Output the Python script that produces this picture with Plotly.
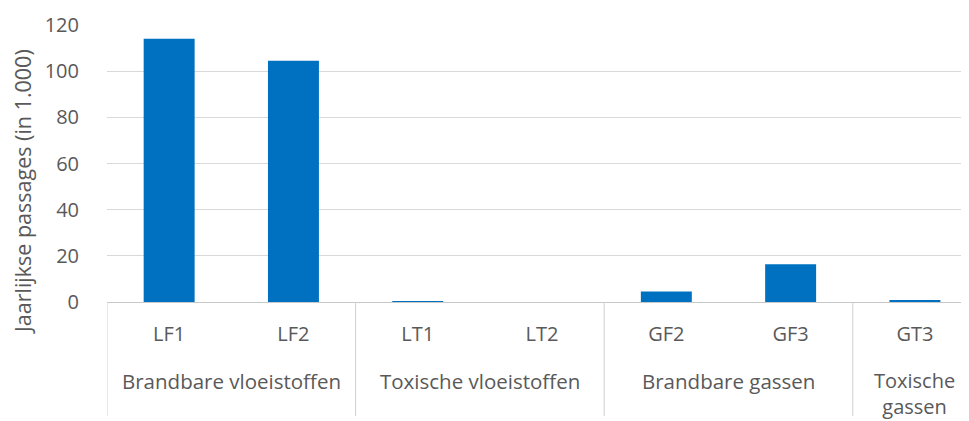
import plotly.graph_objects as go

categories = ["LF1", "LF2", "LT1", "LT2", "GF2", "GF3", "GT3"]
values = [114, 104.5, 0.4, 0, 4.5, 16.3, 0.8]
groups = ["Brandbare vloeistoffen", "Toxische vloeistoffen", "Brandbare gassen", "Toxische<br>gassen"]
group_spans = [(0, 1), (2, 3), (4, 5), (6, 6)]
y_ticks = [0, 20, 40, 60, 80, 100, 120]
y_title = "Jaarlijkse passages (in 1.000)"

FONT = "Open Sans"
GREY = "#595959"

# page is rendered with an 8px body margin; compensate
OFF = 8
W, HT = 969 - OFF, 421 - OFF
L, T = 107 - OFF, 25 - OFF
BOTTOM = 302 - OFF
B = HT - BOTTOM
H = BOTTOM - T
PW = W - L

fig = go.Figure()
fig.add_trace(go.Bar(
    x=list(range(len(categories))), y=values,
    marker=dict(color="#0070c0", line=dict(width=0)),
    width=0.41,
))

for (a, b), g in zip(group_spans, groups):
    center = (a + b) / 2
    if "<br>" in g:
        fig.add_annotation(x=center, xref="x", y=-(393 - 302) / H, yref="paper",
                           text=g, showarrow=False, yanchor="middle",
                           font=dict(family=FONT, size=20, color=GREY))
    else:
        fig.add_annotation(x=center, xref="x", y=-(381 - 302) / H, yref="paper",
                           text=g, showarrow=False, yanchor="middle",
                           font=dict(family=FONT, size=20.5, color=GREY))
for pos in [-0.5, 1.5, 3.5, 5.5]:
    fig.add_shape(type="line", x0=pos, x1=pos, xref="x", y0=0, y1=-(416 - 302) / H, yref="paper",
                  line=dict(color="#d0d0d0", width=1))

# y-axis title
fig.add_annotation(x=(22 - 107) / PW, xref="paper", y=(302 - 192) / H, yref="paper",
                   text=y_title, textangle=-90, showarrow=False,
                   xanchor="center", yanchor="middle",
                   font=dict(family=FONT, size=21.5, color=GREY))

fig.update_layout(
    width=W, height=HT,
    margin=dict(l=L, r=0, t=T, b=B, autoexpand=False),
    plot_bgcolor="white", paper_bgcolor="white",
    showlegend=False,
    font=dict(family=FONT, color=GREY),
    xaxis=dict(
        tickmode="array", tickvals=list(range(len(categories))), ticktext=categories,
        range=[-0.5, 6.435],
        showgrid=False, zeroline=False,
        showline=True, linecolor="#c8c8c8", linewidth=1,
        tickfont=dict(family=FONT, size=20, color=GREY),
        ticks="", ticklabelstandoff=14,
    ),
    yaxis=dict(
        range=[0, 120], tickvals=y_ticks,
        showgrid=True, gridcolor="#d9d9d9", gridwidth=1,
        zeroline=False, showline=False,
        tickfont=dict(family=FONT, size=20, color=GREY),
        ticks="outside", ticklen=23, tickcolor="rgba(255,255,255,0)",
    ),
)

fig.write_html("out.html")
